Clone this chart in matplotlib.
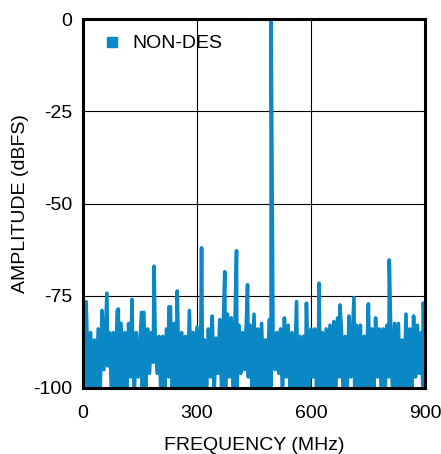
import matplotlib
matplotlib.use("Agg")
import matplotlib.pyplot as plt
from matplotlib.lines import Line2D

plt.rcParams['font.family'] = ['Liberation Sans', 'DejaVu Sans']
plt.rcParams['axes.unicode_minus'] = False

# -----------------------------
# DATA
# -----------------------------
# noise floor: local maxima every 10 MHz (0..900)
peak_mhz = list(range(0, 901, 10))
peak_db = [-80, -83, -85, -87, -84, -79, -82.5, -85, -85, -79,
           -82.5, -85, -82.5, -84, -85, -87, -79.5, -84, -85, -86,
           -86, -86, -84, -78, -82.5, -84, -85, -86, -79, -85,
           -83.5, -84, -87, -84, -80.5, -86.5, -81.5, -80, -80, -81,
           -82, -83, -85, -82, -83, -80, -84, -82.5, -87, -81.5,
           -85, -85, -84, -81, -83, -85, -84, -86, -86, -85,
           -84, -84, -85, -85, -84, -83, -82, -81, -84, -86,
           -80.5, -84, -83, -83, -86, -80, -84, -81, -84, -84,
           -83, -85, -82.5, -82.5, -87, -80, -84, -80.5, -83, -85,
           -80]

# noise floor: local minima in between (5..895)
dip_mhz = list(range(5, 900, 10))
dip_db = [-102, -102, -102, -102, -102, -95, -94, -102, -102, -102,
          -102, -102, -97, -102, -97, -102, -102, -96, -93, -96,
          -102, -102, -97, -102, -102, -102, -102, -102, -102, -102,
          -102, -102, -102, -97, -102, -96, -102, -102, -97, -102,
          -102, -96, -95, -97, -102, -102, -102, -102, -102, -102,
          -95, -96, -102, -97, -102, -102, -102, -102, -102, -102,
          -97, -102, -102, -102, -102, -102, -102, -97, -102, -102,
          -97, -102, -102, -102, -102, -102, -102, -97, -102, -102,
          -97, -102, -102, -102, -102, -102, -102, -97, -96, -102]

# fundamental and spurs
spur_mhz = [8, 63, 93, 129, 154, 187, 226, 248, 312, 373, 404, 433,
            495, 562, 588, 621, 676, 713, 751, 806, 895]
spur_db = [-76.6, -74.3, -78.6, -76, -79.5, -67, -78, -73.7, -62, -68.5, -62.8, -72,
           0, -76.6, -77, -71.6, -77.5, -75.5, -77.2, -65.3, -77]

x_ticks = [0, 300, 600, 900]
y_ticks = [0, -25, -50, -75, -100]

# merge into one trace
pts = sorted(zip(peak_mhz + dip_mhz + spur_mhz, peak_db + dip_db + spur_db))
freq = [p[0] for p in pts]
amp = [p[1] for p in pts]

BLUE = '#0a88c6'

# -----------------------------
# PLOT
# -----------------------------
fig = plt.figure(figsize=(4.41, 4.54), dpi=100)
ax = fig.add_axes([83 / 441, 1 - 388 / 454, 342 / 441, 369 / 454])

ax.plot(freq, amp, color=BLUE, lw=2.6, solid_joinstyle='round')

ax.set_xlim(0, 900)
ax.set_ylim(-100, 0)
ax.set_xticks(x_ticks)
ax.set_yticks(y_ticks)
ax.tick_params(length=0, labelsize=14)
ax.tick_params(axis='x', pad=12)
ax.tick_params(axis='y', pad=8)
ax.grid(True, color='black', lw=0.8)
for s in ax.spines.values():
    s.set_linewidth(2.2)

ax.set_xlabel("FREQUENCY (MHz)", fontsize=14, labelpad=11)
ax.set_ylabel("AMPLITUDE (dBFS)", fontsize=14, labelpad=3)

h = Line2D([], [], marker='s', ls='none', color=BLUE, markersize=7.5)
ax.legend(handles=[h], labels=["NON-DES"], loc='upper left', frameon=False,
          fontsize=14, bbox_to_anchor=(0.056, 0.957), borderpad=0,
          borderaxespad=0, handlelength=1, handletextpad=0.58)

fig.savefig("out.png", dpi=100)
